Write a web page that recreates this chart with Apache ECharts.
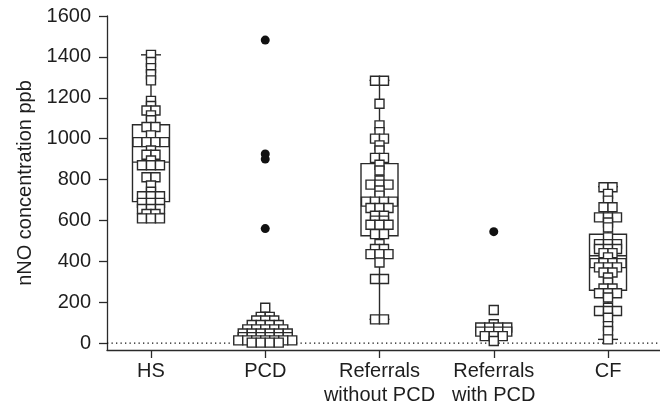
<!DOCTYPE html>
<html>
<head>
<meta charset="utf-8">
<script src="https://cdn.jsdelivr.net/npm/echarts@6/dist/echarts.min.js"></script>
<style>
  html, body { margin: 0; padding: 0; background: #fff; }
  #chart { width: 660px; height: 415px; }
</style>
</head>
<body>
<div id="chart"></div>
<script>
// Groups along the x axis (positions 1..5)
const categories = ['HS', 'PCD', 'Referrals\nwithout PCD', 'Referrals\nwith PCD', 'CF'];
const yTickValues = [0, 200, 400, 600, 800, 1000, 1200, 1400, 1600];

// Individual nNO measurements (ppb); repeated values sit side by side in one row
const hsValues = [
  1410, 1375, 1345, 1315, 1285,
  1185, 1160, 1138, 1138, 1114, 1090, 1057, 1057, 1016,
  983, 983, 983, 983, 942, 921, 921, 893, 870, 870, 870,
  811, 811, 771, 740, 718, 718, 718, 686, 686, 686,
  656, 656, 656, 631, 631, 610, 610, 610
];
const pcdValues = [
  173, 128, 128, 110, 110, 110, 88, 88, 88, 88,
  67, 67, 67, 67, 67, 47, 47, 47, 47, 47, 47,
  29, 29, 29, 29, 29, 29, 13, 13, 13, 13, 13, 13, 13,
  2, 2, 2, 2
];
const refNoPcdValues = [
  1283, 1283, 1171, 1065, 1032, 1000, 1000, 967, 942, 906, 906, 872, 844,
  795, 775, 775, 775, 746, 721, 692, 692, 692, 692, 661, 661, 661,
  623, 623, 599, 599, 579, 579, 579, 533, 533, 484, 460, 460,
  435, 435, 435, 394, 313, 313, 116, 116
];
const refPcdValues = [162, 92, 76, 76, 76, 76, 56, 56, 56, 56, 34, 34, 34, 10];
const cfValues = [
  762, 762, 730, 697, 664, 664, 615, 615, 615, 590, 566, 517,
  484, 484, 484, 460, 460, 460, 440, 440, 419, 391, 391, 391, 391,
  370, 370, 370, 345, 345, 321, 296, 267, 267, 244, 244, 244, 223,
  173, 157, 157, 157, 124, 83, 59, 18
];

// Values flagged as outliers (filled dots)
const pcdOutliers = [1482, 925, 900, 560];
const refPcdOutliers = [545];

// Box summaries: [min, Q1, median, Q3, max]
const hsBox = [610, 692, 885, 1068, 1410];
const refNoPcdBox = [116, 525, 681, 878, 1285];
const cfBox = [18, 258, 427, 532, 765];

// Axis ranges
const X_MIN = 0.615, X_MAX = 5.455;
const Y_MIN = -34, Y_MAX = 1600;

const groups = [
  { pos: 1, values: hsValues },
  { pos: 2, values: pcdValues },
  { pos: 3, values: refNoPcdValues },
  { pos: 4, values: refPcdValues },
  { pos: 5, values: cfValues }
];

const MARK_SIZE = 9;
const MARK_STEP = 9; // horizontal spacing (px) between squares sharing a value

function rowLayout(pos, values) {
  const counts = {};
  values.forEach(v => { counts[v] = (counts[v] || 0) + 1; });
  const seen = {};
  return values.map(v => {
    const n = counts[v];
    const i = seen[v] = (seen[v] === undefined ? 0 : seen[v] + 1);
    const dx = (i - (n - 1) / 2) * MARK_STEP;
    return { value: [pos, v], symbolOffset: [dx, 0] };
  });
}

const squareData = [];
groups.forEach(g => rowLayout(g.pos, g.values).forEach(d => squareData.push(d)));

const outlierData = []
  .concat(pcdOutliers.map(v => [2, v]))
  .concat(refPcdOutliers.map(v => [4, v]));

const boxData = [
  [1].concat(hsBox),
  [3].concat(refNoPcdBox),
  [5].concat(cfBox)
];

const LINE = '#2a2a2a';
const TEXT = '#1e1e1e';
const FONT = 'Liberation Sans, Arial, sans-serif';

function renderBox(params, api) {
  const x = api.value(0);
  const pMin = api.coord([x, api.value(1)]);
  const pQ1 = api.coord([x, api.value(2)]);
  const pMed = api.coord([x, api.value(3)]);
  const pQ3 = api.coord([x, api.value(4)]);
  const pMax = api.coord([x, api.value(5)]);
  const cx = pMed[0];
  const half = 18.5, cap = 10;
  const style = { stroke: LINE, lineWidth: 1.4, fill: null };
  const line = (x1, y1, x2, y2) => ({ type: 'line', shape: { x1, y1, x2, y2 }, style });
  return {
    type: 'group',
    children: [
      { type: 'rect', shape: { x: cx - half, y: pQ3[1], width: 2 * half, height: pQ1[1] - pQ3[1] }, style },
      line(cx - half, pMed[1], cx + half, pMed[1]),
      line(cx, pQ3[1], cx, pMax[1]),
      line(cx, pQ1[1], cx, pMin[1]),
      line(cx - cap, pMax[1], cx + cap, pMax[1]),
      line(cx - cap, pMin[1], cx + cap, pMin[1])
    ]
  };
}

const chart = echarts.init(document.getElementById('chart'), null, { renderer: 'canvas' });
chart.setOption({
  animation: false,
  backgroundColor: '#fff',
  grid: { left: 107, right: 0, top: 16, bottom: 65 },
  xAxis: {
    type: 'value',
    min: X_MIN,
    max: X_MAX,
    splitLine: { show: false },
    axisLine: { show: true, onZero: false, lineStyle: { color: LINE, width: 1.3 } },
    axisTick: { show: true, length: 8, customValues: [1, 2, 3, 4, 5], lineStyle: { color: LINE, width: 1.3 } },
    axisLabel: {
      customValues: [1, 2, 3, 4, 5],
      formatter: v => categories[Math.round(v) - 1],
      fontFamily: FONT,
      fontSize: 20,
      lineHeight: 24,
      color: TEXT,
      margin: 9
    }
  },
  yAxis: {
    type: 'value',
    min: Y_MIN,
    max: Y_MAX,
    name: 'nNO concentration ppb',
    nameLocation: 'middle',
    nameGap: 66,
    nameTextStyle: { fontFamily: FONT, fontSize: 20, color: TEXT },
    splitLine: { show: false },
    axisLine: { show: true, lineStyle: { color: LINE, width: 1.3 } },
    axisTick: { show: true, length: 8, customValues: yTickValues, lineStyle: { color: LINE, width: 1.3 } },
    axisLabel: {
      customValues: yTickValues,
      formatter: v => String(v),
      fontFamily: FONT,
      fontSize: 20,
      color: TEXT,
      margin: 16
    }
  },
  series: [
    {
      // dotted reference line at zero, spanning the plot width
      type: 'line',
      z: 2,
      silent: true,
      symbol: 'none',
      lineStyle: { color: '#111', width: 1.3, type: [1.3, 3.2] },
      data: [[X_MIN, 0], [X_MAX, 0]]
    },
    {
      type: 'custom',
      z: 1,
      renderItem: renderBox,
      encode: { x: 0, y: [1, 2, 3, 4, 5] },
      data: boxData,
      silent: true
    },
    {
      type: 'scatter',
      z: 3,
      symbol: 'rect',
      symbolSize: MARK_SIZE,
      itemStyle: { color: '#fff', borderColor: LINE, borderWidth: 1.4, opacity: 1 },
      data: squareData
    },
    {
      type: 'scatter',
      z: 4,
      symbol: 'circle',
      symbolSize: 9,
      itemStyle: { color: '#111', opacity: 1 },
      data: outlierData
    }
  ]
});
</script>
</body>
</html>
